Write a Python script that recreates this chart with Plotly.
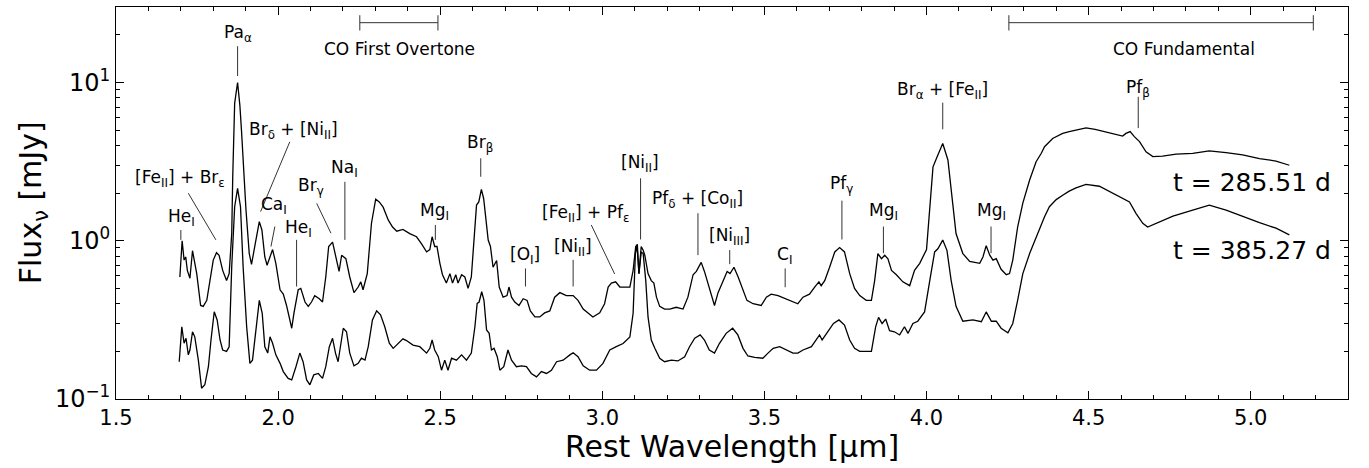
import numpy as np
import plotly.graph_objects as go

# ---------------- data ----------------
wave_285 = [1.697, 1.704, 1.710, 1.715, 1.720, 1.728, 1.736, 1.749, 1.761, 1.769, 1.780, 1.790, 1.800, 1.810,
            1.818, 1.829, 1.841, 1.849, 1.857, 1.860, 1.866, 1.875, 1.882, 1.887, 1.892, 1.901, 1.911, 1.918,
            1.928, 1.942, 1.950, 1.959, 1.966, 1.975, 1.983, 1.993, 2.006, 2.016, 2.026, 2.042, 2.049, 2.062,
            2.070, 2.083, 2.093, 2.103, 2.113, 2.127, 2.137, 2.147, 2.156, 2.168, 2.177, 2.188, 2.196, 2.209,
            2.221, 2.234, 2.247, 2.255, 2.262, 2.275, 2.288, 2.301, 2.312, 2.324, 2.340, 2.353, 2.366, 2.385,
            2.406, 2.427, 2.442, 2.458, 2.468, 2.475, 2.483, 2.490, 2.499, 2.507, 2.519, 2.530, 2.538, 2.548,
            2.555, 2.566, 2.576, 2.586, 2.596, 2.604, 2.612, 2.619, 2.627, 2.634, 2.641, 2.648, 2.655, 2.663,
            2.674, 2.682, 2.694, 2.706, 2.712, 2.720, 2.730, 2.743, 2.756, 2.768, 2.778, 2.792, 2.807, 2.822,
            2.838, 2.853, 2.869, 2.889, 2.910, 2.925, 2.941, 2.956, 2.971, 2.992, 3.007, 3.018, 3.028, 3.041,
            3.054, 3.074, 3.085, 3.095, 3.103, 3.108, 3.113, 3.120, 3.126, 3.131, 3.141, 3.151, 3.159, 3.167,
            3.177, 3.192, 3.208, 3.228, 3.249, 3.264, 3.280, 3.290, 3.305, 3.315, 3.326, 3.336, 3.346, 3.357,
            3.373, 3.385, 3.394, 3.406, 3.419, 3.432, 3.446, 3.465, 3.490, 3.506, 3.521, 3.542, 3.567, 3.588,
            3.603, 3.619, 3.639, 3.655, 3.668, 3.675, 3.686, 3.701, 3.717, 3.732, 3.747, 3.763, 3.778, 3.794,
            3.814, 3.830, 3.840, 3.850, 3.861, 3.871, 3.881, 3.892, 3.907, 3.927, 3.948, 3.963, 3.979, 4.000,
            4.010, 4.020, 4.035, 4.050, 4.066, 4.076, 4.091, 4.112, 4.133, 4.164, 4.174, 4.184, 4.195, 4.205,
            4.215, 4.230, 4.246, 4.256, 4.266, 4.281, 4.297, 4.318, 4.328, 4.338, 4.354, 4.364, 4.389, 4.405,
            4.420, 4.440, 4.461, 4.492, 4.520, 4.554, 4.580, 4.605, 4.615, 4.628, 4.641, 4.657, 4.677, 4.698,
            4.728, 4.770, 4.821, 4.872, 4.924, 4.975, 5.027, 5.078, 5.119]
flux_285 = [0.59, 1.00, 0.755, 0.79, 0.65, 0.58, 0.865, 0.62, 0.39, 0.385, 0.42, 0.56, 0.755, 0.84,
            0.81, 0.65, 0.56, 0.62, 1.11, 2.5, 7.4, 10.0, 7.2, 5.0, 3.2, 1.56, 0.83, 0.71,
            0.92, 1.32, 1.17, 0.79, 0.70, 0.79, 0.88, 0.72, 0.49, 0.46, 0.39, 0.28, 0.35, 0.49,
            0.50, 0.41, 0.385, 0.41, 0.45, 0.43, 0.41, 0.59, 0.92, 0.98, 0.81, 0.64, 0.81, 0.77,
            0.59, 0.47, 0.51, 0.55, 0.49, 0.62, 1.29, 1.83, 1.76, 1.63, 1.35, 1.22, 1.15, 1.18,
            1.11, 1.06, 0.96, 0.85, 0.88, 1.06, 0.92, 0.92, 0.72, 0.61, 0.54, 0.62, 0.54, 0.61,
            0.54, 0.61, 0.59, 0.50, 0.59, 0.96, 1.68, 1.76, 2.11, 1.85, 1.35, 1.01, 0.92, 0.68,
            0.75, 0.51, 0.44, 0.45, 0.51, 0.44, 0.41, 0.39, 0.43, 0.42, 0.36, 0.33, 0.33, 0.35,
            0.36, 0.44, 0.47, 0.45, 0.45, 0.42, 0.37, 0.35, 0.33, 0.35, 0.40, 0.51, 0.54, 0.55,
            0.51, 0.51, 0.51, 0.65, 0.92, 0.95, 0.62, 0.92, 0.87, 0.81, 0.62, 0.56, 0.54, 0.44,
            0.385, 0.37, 0.37, 0.38, 0.37, 0.44, 0.61, 0.64, 0.73, 0.64, 0.54, 0.47, 0.39, 0.47,
            0.56, 0.64, 0.62, 0.68, 0.59, 0.50, 0.42, 0.40, 0.39, 0.44, 0.46, 0.45, 0.43, 0.41,
            0.40, 0.44, 0.46, 0.51, 0.55, 0.52, 0.56, 0.68, 0.85, 0.905, 0.85, 0.62, 0.50, 0.45,
            0.42, 0.42, 0.56, 0.83, 0.77, 0.81, 0.77, 0.65, 0.61, 0.55, 0.52, 0.65, 0.72, 0.88,
            1.56, 2.93, 3.48, 4.12, 3.24, 2.09, 1.11, 0.83, 0.74, 0.72, 0.79, 0.93, 0.81, 0.755,
            0.77, 0.66, 0.61, 0.62, 0.755, 1.22, 1.73, 2.42, 2.80, 3.16, 3.57, 3.93, 4.43, 4.62,
            4.77, 4.90, 5.0, 5.17, 5.05, 4.85, 4.72, 4.59, 4.77, 4.9, 4.55, 4.23, 3.65, 3.4,
            3.43, 3.53, 3.57, 3.7, 3.6, 3.49, 3.3, 3.19, 3.0]

wave_385 = [1.695, 1.703, 1.710, 1.716, 1.723, 1.728, 1.736, 1.743, 1.754, 1.764, 1.774, 1.785, 1.793, 1.803,
            1.812, 1.821, 1.829, 1.841, 1.849, 1.857, 1.866, 1.875, 1.884, 1.892, 1.903, 1.913, 1.921, 1.932,
            1.942, 1.951, 1.959, 1.968, 1.975, 1.983, 1.993, 2.006, 2.016, 2.031, 2.042, 2.055, 2.067, 2.077,
            2.088, 2.098, 2.110, 2.124, 2.137, 2.147, 2.158, 2.168, 2.177, 2.185, 2.193, 2.201, 2.211, 2.221,
            2.234, 2.247, 2.257, 2.268, 2.278, 2.291, 2.304, 2.316, 2.329, 2.343, 2.355, 2.370, 2.385, 2.396,
            2.416, 2.437, 2.458, 2.468, 2.475, 2.483, 2.494, 2.504, 2.514, 2.524, 2.535, 2.550, 2.566, 2.581,
            2.596, 2.607, 2.614, 2.620, 2.628, 2.635, 2.643, 2.651, 2.658, 2.666, 2.676, 2.684, 2.696, 2.709,
            2.720, 2.735, 2.751, 2.766, 2.781, 2.797, 2.812, 2.828, 2.843, 2.859, 2.879, 2.900, 2.910, 2.925,
            2.941, 2.961, 2.982, 3.002, 3.023, 3.043, 3.064, 3.085, 3.095, 3.102, 3.107, 3.113, 3.120, 3.126,
            3.134, 3.141, 3.151, 3.162, 3.177, 3.192, 3.213, 3.233, 3.254, 3.269, 3.285, 3.302, 3.315, 3.330,
            3.346, 3.361, 3.382, 3.402, 3.418, 3.434, 3.449, 3.470, 3.495, 3.511, 3.527, 3.547, 3.567, 3.588,
            3.603, 3.619, 3.645, 3.660, 3.670, 3.678, 3.695, 3.713, 3.730, 3.747, 3.763, 3.778, 3.794, 3.830,
            3.843, 3.852, 3.863, 3.874, 3.886, 3.901, 3.917, 3.932, 3.943, 3.958, 3.973, 3.994, 4.010, 4.025,
            4.035, 4.050, 4.063, 4.076, 4.091, 4.112, 4.143, 4.169, 4.184, 4.200, 4.215, 4.230, 4.251, 4.266,
            4.281, 4.297, 4.318, 4.333, 4.349, 4.364, 4.379, 4.400, 4.420, 4.440, 4.461, 4.492, 4.533, 4.574,
            4.610, 4.626, 4.646, 4.667, 4.682, 4.708, 4.760, 4.821, 4.872, 4.924, 4.975, 5.027, 5.078, 5.119]
flux_385 = [0.172, 0.286, 0.225, 0.242, 0.19, 0.204, 0.266, 0.247, 0.176, 0.117, 0.123, 0.16, 0.236, 0.356,
            0.316, 0.236, 0.204, 0.20, 0.214, 0.69, 1.64, 2.14, 1.64, 0.69, 0.286, 0.168, 0.176, 0.286,
            0.42, 0.348, 0.214, 0.195, 0.247, 0.225, 0.19, 0.168, 0.149, 0.135, 0.132, 0.16, 0.195, 0.172,
            0.132, 0.123, 0.142, 0.145, 0.135, 0.16, 0.214, 0.242, 0.195, 0.172, 0.225, 0.28, 0.266, 0.195,
            0.162, 0.168, 0.181, 0.176, 0.214, 0.316, 0.361, 0.34, 0.286, 0.225, 0.209, 0.225, 0.24, 0.234,
            0.219, 0.214, 0.195, 0.209, 0.236, 0.204, 0.185, 0.152, 0.176, 0.152, 0.181, 0.176, 0.19, 0.176,
            0.195, 0.286, 0.402, 0.41, 0.476, 0.42, 0.273, 0.26, 0.204, 0.209, 0.185, 0.152, 0.16, 0.204,
            0.176, 0.16, 0.162, 0.16, 0.145, 0.138, 0.149, 0.145, 0.152, 0.172, 0.176, 0.19, 0.196, 0.185,
            0.162, 0.152, 0.152, 0.168, 0.204, 0.214, 0.224, 0.247, 0.348, 0.83, 0.93, 0.62, 0.85, 0.83,
            0.56, 0.33, 0.236, 0.209, 0.181, 0.172, 0.176, 0.174, 0.185, 0.214, 0.242, 0.254, 0.236, 0.204,
            0.195, 0.224, 0.26, 0.28, 0.254, 0.209, 0.187, 0.183, 0.181, 0.195, 0.209, 0.214, 0.204, 0.195,
            0.195, 0.204, 0.214, 0.236, 0.254, 0.236, 0.266, 0.30, 0.316, 0.293, 0.236, 0.209, 0.20, 0.20,
            0.286, 0.328, 0.30, 0.32, 0.27, 0.266, 0.254, 0.286, 0.26, 0.30, 0.31, 0.355, 0.56, 0.85,
            0.89, 1.01, 0.87, 0.56, 0.385, 0.31, 0.316, 0.308, 0.355, 0.31, 0.31, 0.28, 0.262, 0.30,
            0.42, 0.62, 0.83, 0.99, 1.17, 1.42, 1.64, 1.82, 1.94, 2.06, 2.16, 2.27, 2.21, 2.0,
            1.82, 1.76, 1.49, 1.29, 1.22, 1.29, 1.43, 1.56, 1.68, 1.56, 1.42, 1.3, 1.2, 1.09]

epoch_labels = ["t = 285.51 d", "t = 385.27 d"]

x_tickvals = [1.5, 2.0, 2.5, 3.0, 3.5, 4.0, 4.5, 5.0]
x_ticktext = ["1.5", "2.0", "2.5", "3.0", "3.5", "4.0", "4.5", "5.0"]
y_tickvals = [0.1, 1, 10]
y_ticktext = ["10<sup>−1</sup>", "10<sup>0</sup>", "10<sup>1</sup>"]
y_minor = [m * d for d in (0.1, 1, 10) for m in range(2, 10)]

# line identifications: text, text x (um), text y (paper), line start/end (um, paper)
line_ids = [
    ("He<sub>I</sub>", 1.703, 0.462, 1.700, 0.431, 1.700, 0.406),
    ("[Fe<sub>II</sub>] + Br<sub>ε</sub>", 1.697, 0.563, 1.723, 0.525, 1.808, 0.406),
    ("Pa<sub>α</sub>", 1.875, 0.933, 1.875, 0.900, 1.875, 0.824),
    ("Br<sub>δ</sub> + [Ni<sub>II</sub>]", 2.047, 0.686, 2.036, 0.656, 1.946, 0.478),
    ("Ca<sub>I</sub>", 1.986, 0.494, 1.990, 0.440, 1.978, 0.389),
    ("He<sub>I</sub>", 2.062, 0.434, 2.057, 0.406, 2.057, 0.287),
    ("Br<sub>γ</sub>", 2.100, 0.542, 2.119, 0.499, 2.163, 0.423),
    ("Na<sub>I</sub>", 2.206, 0.589, 2.206, 0.554, 2.206, 0.406),
    ("Mg<sub>I</sub>", 2.483, 0.478, 2.485, 0.444, 2.485, 0.406),
    ("Br<sub>β</sub>", 2.624, 0.652, 2.625, 0.614, 2.625, 0.567),
    ("[O<sub>I</sub>]", 2.761, 0.367, 2.763, 0.333, 2.763, 0.287),
    ("[Ni<sub>II</sub>]", 2.910, 0.387, 2.910, 0.355, 2.910, 0.287),
    ("[Fe<sub>II</sub>] + Pf<sub>ε</sub>", 2.949, 0.474, 2.966, 0.444, 3.038, 0.319),
    ("[Ni<sub>II</sub>]", 3.115, 0.600, 3.118, 0.563, 3.118, 0.407),
    ("Pf<sub>δ</sub> + [Co<sub>II</sub>]", 3.295, 0.510, 3.295, 0.474, 3.295, 0.367),
    ("[Ni<sub>III</sub>]", 3.391, 0.414, 3.393, 0.380, 3.393, 0.344),
    ("C<sub>I</sub>", 3.562, 0.367, 3.564, 0.333, 3.564, 0.285),
    ("Pf<sub>γ</sub>", 3.737, 0.546, 3.739, 0.506, 3.739, 0.407),
    ("Mg<sub>I</sub>", 3.867, 0.478, 3.867, 0.440, 3.867, 0.372),
    ("Br<sub>α</sub> + [Fe<sub>II</sub>]", 4.050, 0.788, 4.050, 0.756, 4.050, 0.688),
    ("Mg<sub>I</sub>", 4.199, 0.478, 4.199, 0.440, 4.199, 0.372),
    ("Pf<sub>β</sub>", 4.651, 0.793, 4.653, 0.771, 4.653, 0.691),
]

# CO bands: name, start, end (um), label x (um)
co_bands = [("CO First Overtone", 2.252, 2.493, 2.374), ("CO Fundamental", 4.254, 5.193, 4.795)]

# ---------------- figure ----------------
FONT = "DejaVu Sans"
LABEL_SIZE = 17
fig = go.Figure()
for w, f in ((wave_285, flux_285), (wave_385, flux_385)):
    fig.add_trace(go.Scatter(x=w, y=f, mode="lines", line=dict(color="black", width=1.3),
                             showlegend=False, hoverinfo="skip"))

annotations = []
shapes = []
for text, tx, ty, x0, y0, x1, y1 in line_ids:
    annotations.append(dict(x=tx, y=ty, xref="x", yref="paper", text=text, showarrow=False,
                            xanchor="center", yanchor="middle",
                            font=dict(family=FONT, size=LABEL_SIZE, color="black")))
    shapes.append(dict(type="line", xref="x", yref="paper", x0=x0, y0=y0, x1=x1, y1=y1,
                       line=dict(color="#333333", width=1)))

for name, a, b, lx in co_bands:
    shapes.append(dict(type="line", xref="x", yref="paper", x0=a, x1=b, y0=0.96, y1=0.96,
                       line=dict(color="#333333", width=1)))
    for e in (a, b):
        shapes.append(dict(type="line", xref="x", yref="paper", x0=e, x1=e, y0=0.94, y1=0.979,
                           line=dict(color="#333333", width=1)))
    annotations.append(dict(x=lx, y=0.894, xref="x", yref="paper", text=name,
                            showarrow=False, xanchor="center", yanchor="middle",
                            font=dict(family=FONT, size=LABEL_SIZE, color="black")))

for lab, ty in zip(epoch_labels, (0.552, 0.378)):
    annotations.append(dict(x=5.003, y=ty, xref="x", yref="paper", text=lab, showarrow=False,
                            xanchor="center", yanchor="middle",
                            font=dict(family=FONT, size=25, color="black")))

# axis titles
annotations.append(dict(x=0.5, y=-0.12, xref="paper", yref="paper", text="Rest Wavelength [μm]",
                        showarrow=False, xanchor="center", yanchor="middle",
                        font=dict(family=FONT, size=30, color="black")))
annotations.append(dict(x=-0.068, y=0.5, xref="paper", yref="paper", text="Flux<sub>ν</sub> [mJy]",
                        showarrow=False, xanchor="center", yanchor="middle", textangle=-90,
                        font=dict(family=FONT, size=30, color="black")))

fig.update_layout(
    width=1369, height=468,
    margin=dict(l=116, r=21, t=7, b=69),
    paper_bgcolor="white", plot_bgcolor="white",
    font=dict(family=FONT, color="black"),
    annotations=annotations, shapes=shapes,
    xaxis=dict(range=[1.5, 5.3], tickmode="array", tickvals=x_tickvals, ticktext=x_ticktext,
               ticks="inside", ticklen=8, tickwidth=1, tickcolor="black",
               showline=True, linecolor="black", linewidth=1, mirror="ticks",
               showgrid=False, zeroline=False, tickfont=dict(size=21),
               minor=dict(tickmode="linear", tick0=1.5, dtick=0.1, ticks="inside", ticklen=4,
                          tickcolor="black", showgrid=False)),
    yaxis=dict(type="log", range=[-1, np.log10(30)], tickmode="array", tickvals=y_tickvals,
               ticktext=y_ticktext, ticks="inside", ticklen=8, tickwidth=1, tickcolor="black",
               showline=True, linecolor="black", linewidth=1, mirror="ticks",
               showgrid=False, zeroline=False, tickfont=dict(size=24),
               minor=dict(tickmode="array", tickvals=y_minor, ticks="inside", ticklen=4,
                          tickcolor="black", showgrid=False)),
)

fig.write_html("out.html")
